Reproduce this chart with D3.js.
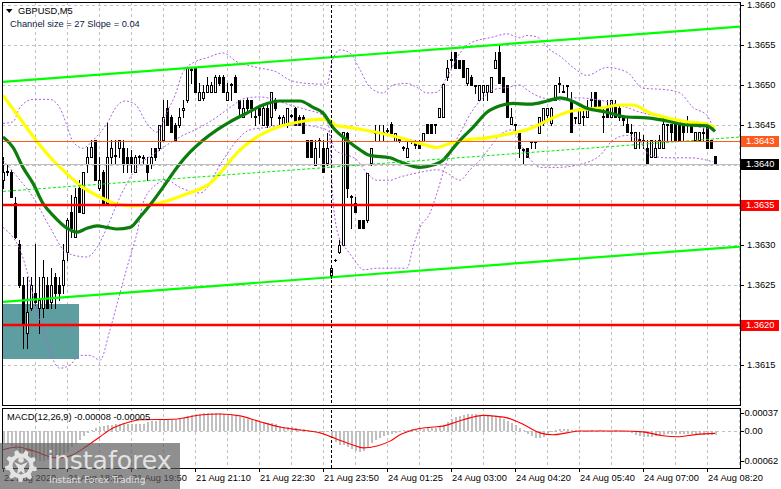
<!DOCTYPE html>
<html><head><meta charset="utf-8">
<script src="https://cdn.jsdelivr.net/npm/d3@7"></script>
<style>
body{margin:0;background:#fff;}
svg{display:block;}
</style>
</head><body><svg id="c" width="781" height="489"></svg>
<script>
// ---------------- DATA ----------------
const symbolTitle = "GBPUSD,M5";
const channelText = "Channel size = 27 Slope = 0.04";
const macdName = "MACD(12,26,9)";
const timeLabels = ["21 Aug 2020","21 Aug 18:30","21 Aug 19:50","21 Aug 21:10","21 Aug 22:30","21 Aug 23:50",
  "24 Aug 01:25","24 Aug 03:00","24 Aug 04:20","24 Aug 05:40","24 Aug 07:00","24 Aug 08:20"];
const timeLabelBars = [0,16,32,48,64,80,96,112,128,144,160,176];
const gridBars = [8,16,24,32,40,48,56,64,72,80,88,96,104,112,120,128,136,144,152,160,168,176,184];
const priceTicks = [1.3615,1.3620,1.3625,1.3630,1.3635,1.3640,1.3645,1.3650,1.3655,1.3660];
const macdTicks = [0.00037, 0, -0.00062];
const daySeparatorBar = 82;

const opens = [1.36381,1.36391,1.36391,1.36352,1.36301,1.36250,1.36190,1.36221,1.36240,1.36221,
1.36221,1.36250,1.36229,1.36260,1.36250,1.36250,1.36291,1.36341,1.36310,1.36371,
1.36340,1.36401,1.36410,1.36431,1.36371,1.36391,1.36352,1.36410,1.36411,1.36421,
1.36421,1.36410,1.36410,1.36391,1.36410,1.36409,1.36401,1.36401,1.36421,1.36421,
1.36431,1.36471,1.36460,1.36450,1.36450,1.36469,1.36481,1.36519,1.36521,1.36481,
1.36484,1.36491,1.36491,1.36491,1.36510,1.36510,1.36481,1.36500,1.36510,1.36481,
1.36460,1.36481,1.36481,1.36460,1.36471,1.36450,1.36471,1.36460,1.36481,1.36459,
1.36450,1.36450,1.36461,1.36471,1.36460,1.36460,1.36431,1.36431,1.36400,1.36430,
1.36421,1.36402,1.36260,1.36281,1.36291,1.36300,1.36440,1.36360,1.36352,1.36331,
1.36331,1.36331,1.36402,1.36440,1.36440,1.36440,1.36444,1.36451,1.36430,1.36431,
1.36421,1.36410,1.36430,1.36430,1.36430,1.36430,1.36451,1.36451,1.36450,1.36460,
1.36460,1.36510,1.36531,1.36541,1.36531,1.36531,1.36502,1.36510,1.36499,1.36481,
1.36491,1.36491,1.36491,1.36521,1.36541,1.36510,1.36500,1.36451,1.36450,1.36440,
1.36419,1.36421,1.36429,1.36429,1.36440,1.36452,1.36462,1.36452,1.36481,1.36501,
1.36491,1.36499,1.36481,1.36459,1.36452,1.36460,1.36460,1.36481,1.36491,1.36481,
1.36460,1.36471,1.36460,1.36472,1.36471,1.36460,1.36451,1.36440,1.36421,1.36431,
1.36430,1.36421,1.36410,1.36410,1.36421,1.36421,1.36450,1.36451,1.36451,1.36451,
1.36451,1.36450,1.36451,1.36431,1.36431,1.36440,1.36451,1.36431,1.36411];
const highs = [1.36410,1.36401,1.36394,1.36360,1.36306,1.36260,1.36260,1.36260,1.36301,1.36260,
1.36281,1.36260,1.36271,1.36265,1.36260,1.36301,1.36334,1.36362,1.36371,1.36381,
1.36391,1.36422,1.36431,1.36431,1.36410,1.36394,1.36452,1.36431,1.36431,1.36431,
1.36431,1.36421,1.36419,1.36412,1.36412,1.36412,1.36410,1.36421,1.36421,1.36450,
1.36481,1.36481,1.36462,1.36452,1.36471,1.36481,1.36521,1.36521,1.36521,1.36502,
1.36500,1.36510,1.36504,1.36512,1.36512,1.36512,1.36502,1.36502,1.36512,1.36481,
1.36481,1.36484,1.36481,1.36471,1.36475,1.36475,1.36475,1.36491,1.36484,1.36462,
1.36462,1.36471,1.36464,1.36472,1.36462,1.36462,1.36431,1.36431,1.36431,1.36434,
1.36431,1.36440,1.36271,1.36282,1.36306,1.36441,1.36441,1.36362,1.36360,1.36331,
1.36331,1.36390,1.36421,1.36450,1.36450,1.36450,1.36446,1.36454,1.36440,1.36434,
1.36424,1.36431,1.36431,1.36431,1.36431,1.36440,1.36451,1.36451,1.36451,1.36471,
1.36501,1.36531,1.36541,1.36541,1.36531,1.36531,1.36521,1.36512,1.36500,1.36500,
1.36500,1.36500,1.36510,1.36541,1.36550,1.36510,1.36500,1.36471,1.36451,1.36440,
1.36421,1.36421,1.36430,1.36430,1.36460,1.36471,1.36471,1.36472,1.36500,1.36510,
1.36500,1.36500,1.36491,1.36460,1.36471,1.36471,1.36481,1.36491,1.36491,1.36481,
1.36471,1.36481,1.36481,1.36481,1.36475,1.36462,1.36459,1.36451,1.36441,1.36441,
1.36437,1.36431,1.36431,1.36431,1.36437,1.36460,1.36451,1.36451,1.36451,1.36451,
1.36451,1.36461,1.36451,1.36441,1.36441,1.36446,1.36451,1.36431,1.36411];
const lows = [1.36371,1.36387,1.36360,1.36309,1.36247,1.36171,1.36171,1.36219,1.36225,1.36190,
1.36210,1.36221,1.36221,1.36221,1.36231,1.36240,1.36281,1.36310,1.36310,1.36341,
1.36340,1.36391,1.36410,1.36381,1.36369,1.36350,1.36350,1.36401,1.36401,1.36410,
1.36391,1.36391,1.36391,1.36391,1.36401,1.36401,1.36381,1.36396,1.36406,1.36419,
1.36431,1.36450,1.36441,1.36431,1.36447,1.36460,1.36479,1.36502,1.36491,1.36481,
1.36481,1.36491,1.36491,1.36491,1.36500,1.36491,1.36481,1.36481,1.36491,1.36460,
1.36460,1.36469,1.36460,1.36450,1.36452,1.36450,1.36447,1.36450,1.36469,1.36450,
1.36450,1.36447,1.36460,1.36450,1.36450,1.36440,1.36410,1.36410,1.36400,1.36410,
1.36391,1.36400,1.36259,1.36280,1.36290,1.36300,1.36360,1.36321,1.36341,1.36321,
1.36321,1.36329,1.36400,1.36431,1.36431,1.36431,1.36440,1.36440,1.36430,1.36429,
1.36419,1.36410,1.36427,1.36421,1.36421,1.36430,1.36440,1.36440,1.36440,1.36460,
1.36460,1.36506,1.36521,1.36521,1.36521,1.36510,1.36500,1.36500,1.36490,1.36481,
1.36481,1.36481,1.36491,1.36521,1.36502,1.36491,1.36460,1.36451,1.36441,1.36410,
1.36402,1.36410,1.36421,1.36421,1.36440,1.36450,1.36460,1.36450,1.36481,1.36491,
1.36491,1.36481,1.36441,1.36452,1.36452,1.36450,1.36460,1.36469,1.36471,1.36469,
1.36441,1.36460,1.36460,1.36460,1.36456,1.36450,1.36441,1.36431,1.36421,1.36421,
1.36421,1.36402,1.36410,1.36410,1.36421,1.36421,1.36431,1.36431,1.36431,1.36431,
1.36431,1.36441,1.36441,1.36431,1.36431,1.36431,1.36421,1.36421,1.36401];
const closes = [1.36391,1.36392,1.36360,1.36310,1.36250,1.36200,1.36216,1.36250,1.36229,1.36231,
1.36260,1.36221,1.36250,1.36240,1.36240,1.36281,1.36331,1.36321,1.36360,1.36341,
1.36391,1.36410,1.36422,1.36381,1.36381,1.36352,1.36410,1.36421,1.36412,1.36431,
1.36401,1.36401,1.36401,1.36410,1.36411,1.36410,1.36391,1.36410,1.36410,1.36450,
1.36460,1.36450,1.36441,1.36431,1.36460,1.36471,1.36521,1.36520,1.36491,1.36491,
1.36491,1.36500,1.36500,1.36510,1.36502,1.36491,1.36491,1.36501,1.36491,1.36471,
1.36471,1.36471,1.36471,1.36461,1.36462,1.36471,1.36450,1.36491,1.36471,1.36460,
1.36460,1.36471,1.36462,1.36450,1.36450,1.36440,1.36410,1.36410,1.36421,1.36431,
1.36391,1.36421,1.36271,1.36281,1.36300,1.36441,1.36371,1.36361,1.36341,1.36321,
1.36321,1.36390,1.36421,1.36441,1.36441,1.36441,1.36443,1.36440,1.36440,1.36432,
1.36422,1.36421,1.36431,1.36425,1.36421,1.36440,1.36440,1.36440,1.36451,1.36471,
1.36501,1.36521,1.36532,1.36521,1.36521,1.36510,1.36521,1.36500,1.36500,1.36500,
1.36500,1.36500,1.36510,1.36531,1.36502,1.36491,1.36460,1.36460,1.36451,1.36421,
1.36420,1.36410,1.36430,1.36430,1.36460,1.36471,1.36471,1.36471,1.36500,1.36502,
1.36492,1.36500,1.36441,1.36460,1.36469,1.36461,1.36471,1.36482,1.36471,1.36469,
1.36461,1.36460,1.36481,1.36460,1.36460,1.36456,1.36441,1.36441,1.36441,1.36432,
1.36431,1.36402,1.36431,1.36421,1.36431,1.36451,1.36451,1.36441,1.36431,1.36431,
1.36441,1.36451,1.36441,1.36441,1.36441,1.36441,1.36421,1.36421,1.36401];

// moving averages: [bar, price]
const maYellow = [[0,1.36487],[4,1.36460],[7.5,1.36436],[11.75,1.36410],[16,1.36389],[20,1.36372],[24.25,1.36360],[28.5,1.36351],[32.5,1.36349],[36.75,1.36350],[41,1.36355],[46,1.36364],[49.25,1.36370],[51.75,1.36377],[55,1.36394],[58.5,1.36415],[63.5,1.36435],[68.5,1.36447],[74.25,1.36454],[78.5,1.36457],[81,1.36457],[83.5,1.36449],[86.75,1.36447],[90,1.36444],[94.25,1.36440],[99.25,1.36434],[104.25,1.36427],[108.5,1.36422],[111.75,1.36427],[115,1.36431],[121,1.36434],[127.5,1.36440],[132.5,1.36447],[137.5,1.36459],[141,1.36466],[144.25,1.36469],[149.25,1.36471],[154.25,1.36475],[157.5,1.36475],[161.75,1.36465],[166,1.36459],[171,1.36454],[176,1.36451],[178,1.36447]];
const maGreen = [[0,1.36435],[2.5,1.36422],[5,1.36397],[7.5,1.36377],[10,1.36352],[12.5,1.36337],[16,1.36321],[18.5,1.36316],[21,1.36321],[23.5,1.36324],[26,1.36322],[28.5,1.36320],[31.75,1.36322],[34.25,1.36335],[36.75,1.36350],[40,1.36372],[43.5,1.36397],[46.75,1.36416],[50,1.36431],[53.5,1.36444],[56.75,1.36454],[61,1.36465],[65,1.36475],[69.25,1.36480],[74.25,1.36480],[77.5,1.36472],[80,1.36465],[82.5,1.36447],[86,1.36431],[89.25,1.36419],[91.75,1.36412],[96.75,1.36409],[99.25,1.36404],[104.25,1.36397],[107.5,1.36400],[110,1.36406],[111.75,1.36416],[114.25,1.36431],[117.5,1.36447],[121,1.36466],[124.25,1.36474],[127.5,1.36477],[131.75,1.36476],[136,1.36480],[139.25,1.36484],[141.75,1.36481],[146,1.36471],[151,1.36466],[156,1.36460],[161,1.36459],[166,1.36455],[171,1.36450],[176,1.36449],[178,1.36442]];

// dotted bands: [bar, price]
const bandUpper = [[0,1.36452],[2.5,1.36454],[4.25,1.36472],[7.5,1.36482],[11.75,1.36482],[14.25,1.36471],[16,1.36449],[17.5,1.36429],[20,1.36421],[22.5,1.36431],[26,1.36452],[28.5,1.36474],[30.5,1.36480],[33,1.36476],[36,1.36452],[38.5,1.36441],[41,1.36466],[43,1.36487],[45,1.36516],[48,1.36529],[51,1.36534],[55,1.36540],[58.5,1.36529],[63.5,1.36522],[68.5,1.36516],[71.75,1.36506],[76,1.36502],[81,1.36501],[82.25,1.36529],[84.25,1.36544],[86.75,1.36540],[89.25,1.36519],[91.75,1.36497],[95,1.36490],[97.5,1.36500],[101,1.36502],[103.5,1.36497],[106,1.36490],[108.5,1.36491],[111,1.36510],[114.25,1.36540],[116.75,1.36552],[122.5,1.36560],[126,1.36564],[129.25,1.36559],[131,1.36562],[133.5,1.36560],[136.75,1.36544],[139.25,1.36536],[142.5,1.36522],[146,1.36512],[151,1.36522],[156,1.36516],[160,1.36496],[166,1.36494],[169.25,1.36490],[172.5,1.36472],[176,1.36462],[177.5,1.36447]];
const bandInner = [[0,1.36406],[4.25,1.36381],[7.5,1.36360],[11.75,1.36322],[16,1.36290],[21,1.36285],[23.5,1.36297],[26,1.36322],[29.25,1.36360],[32.5,1.36390],[39.25,1.36419],[44.25,1.36435],[49.25,1.36447],[53.5,1.36460],[56.75,1.36472],[61,1.36484],[64.25,1.36485],[71.75,1.36475],[76,1.36469],[80,1.36462],[81.5,1.36447],[82.5,1.36356],[84.25,1.36306],[86,1.36294],[88.5,1.36277],[90,1.36269],[93.5,1.36271],[101,1.36271],[102.5,1.36297],[104.25,1.36322],[106.75,1.36340],[108.5,1.36365],[110,1.36390],[111.75,1.36415],[114.25,1.36440],[117.5,1.36469],[120,1.36484],[122.5,1.36494],[126,1.36497],[129.25,1.36500],[131,1.36494],[134.25,1.36485],[139.25,1.36481],[143.5,1.36484],[149.25,1.36481],[154.25,1.36475],[159.25,1.36466],[166,1.36459],[171.75,1.36450],[177.5,1.36444]];
const bandLower = [[0,1.36322],[4.25,1.36294],[9.25,1.36206],[14.25,1.36146],[16.75,1.36150],[19.25,1.36162],[21.75,1.36162],[24.25,1.36156],[26.75,1.36194],[29.25,1.36240],[31.75,1.36285],[33.5,1.36315],[35,1.36352],[37.5,1.36372],[41,1.36381],[44.25,1.36372],[49.25,1.36365],[55,1.36406],[58.5,1.36431],[61.75,1.36444],[66,1.36447],[70,1.36450],[74.25,1.36450],[81,1.36444],[83,1.36419],[88.5,1.36406],[91,1.36390],[93.5,1.36381],[96.75,1.36381],[99.25,1.36385],[103.5,1.36390],[108.5,1.36394],[111,1.36390],[114.25,1.36381],[116.75,1.36394],[119.25,1.36406],[121.75,1.36422],[124.25,1.36438],[127.5,1.36444],[129.5,1.36425],[132,1.36406],[134.25,1.36397],[138.5,1.36397],[143.5,1.36400],[149.25,1.36412],[152.5,1.36431],[156,1.36437],[159,1.36431],[161.75,1.36412],[166,1.36409],[171.75,1.36409],[176,1.36406],[177.5,1.36404]];

// regression channel: [bar, price]
const channelUpper = [[0,1.36504],[184.25,1.36573]];
const channelMiddle = [[0,1.36367],[184.25,1.36435]];
const channelLower = [[0,1.36229],[184.25,1.36298]];

// levels and zone
const redLevels = [1.3635, 1.3620];
const orangeLevel = 1.3643;
const zone = {startBar: -0.25, endBar: 19, high: 1.36226, low: 1.36157};

// MACD
const macdMain = [-0.00025,-0.00027,-0.00031,-0.00037,-0.00043,-0.00049,-0.00056,-0.00060,-0.00062,-0.00062,
-0.00061,-0.00060,-0.00058,-0.00056,-0.00053,-0.00047,-0.00041,-0.00033,-0.00027,-0.00019,
-0.00010,-0.00004,0.00002,0.00006,0.00008,0.00010,0.00012,0.00012,0.00014,0.00014,
0.00015,0.00014,0.00014,0.00015,0.00014,0.00015,0.00018,0.00021,0.00020,0.00023,
0.00025,0.00024,0.00023,0.00022,0.00024,0.00027,0.00031,0.00033,0.00035,0.00035,
0.00036,0.00037,0.00036,0.00037,0.00036,0.00035,0.00034,0.00033,0.00031,0.00029,
0.00026,0.00024,0.00022,0.00020,0.00018,0.00017,0.00016,0.00017,0.00015,0.00011,
0.00009,0.00009,0.00008,0.00006,0.00005,0.00003,0.00001,-0.00001,-0.00001,-0.00002,
-0.00003,-0.00002,-0.00012,-0.00022,-0.00030,-0.00028,-0.00033,-0.00038,-0.00041,-0.00043,
-0.00041,-0.00033,-0.00025,-0.00019,-0.00014,-0.00010,-0.00008,-0.00006,-0.00004,-0.00001,
0.00002,0.00002,0.00004,0.00004,0.00004,0.00005,0.00006,0.00006,0.00006,0.00008,
0.00012,0.00018,0.00024,0.00028,0.00031,0.00033,0.00035,0.00035,0.00034,0.00033,
0.00032,0.00031,0.00030,0.00031,0.00029,0.00025,0.00020,0.00016,0.00012,0.00006,
0.00002,-0.00006,-0.00010,-0.00014,-0.00015,-0.00012,-0.00008,-0.00003,0.00002,0.00004,
0.00005,0.00004,0.00002,0.00001,0.00001,0.00000,-0.00001,0.00001,0.00000,0.00001,
0.00000,-0.00001,0.00000,0.00001,0.00000,-0.00002,-0.00003,-0.00004,-0.00008,-0.00010,
-0.00012,-0.00013,-0.00012,-0.00011,-0.00009,-0.00008,-0.00007,-0.00007,-0.00006,-0.00007,
-0.00006,-0.00006,-0.00007,-0.00006,-0.00007,-0.00008,-0.00008,-0.00008,-0.00008];
const macdSignal = [[0,-0.00039],[3.5,-0.00033],[7.5,-0.00041],[13.5,-0.00056],[17.25,-0.00050],[21,-0.00031],[24.25,-0.00012],[27.5,0.00006],[31,0.00017],[34.25,0.00023],[42.5,0.00024],[46,0.00028],[49.25,0.00033],[54.25,0.00035],[59.25,0.00031],[64.25,0.00019],[69.25,0.00008],[74.25,0.00002],[79.25,-0.00004],[83.5,-0.00017],[87.5,-0.00029],[90,-0.00035],[93.5,-0.00031],[96.75,-0.00021],[99.25,-0.00008],[103.5,0.00004],[107.5,0.00008],[110,0.00010],[113.5,0.00019],[116.75,0.00027],[120,0.00032],[123.5,0.00030],[126,0.00027],[130,0.00014],[134.25,-0.00004],[137.5,-0.00008],[141,-0.00004],[144.25,0.00000],[150,0.00000],[155,0.00000],[160,-0.00002],[165,-0.00010],[168.5,-0.00012],[173.5,-0.00007],[178,-0.00005]];

// ---------------- DRAWING ----------------
const FONT = "'Liberation Sans', Arial, sans-serif";
const FS = 9.3;
const svg = d3.select("#c");
const x = d3.scaleLinear().domain([0, 178]).range([3, 715]);
const y = d3.scaleLinear().domain([1.3615, 1.3660]).range([365, 5]);
const ym = d3.scaleLinear().domain([-0.00062, 0.00037]).range([461, 413]);
const P = v => Math.round(v) + 0.5;

const M = {l: 2, r: 740, t: 2, b: 405};
const S = {t: 408, b: 468};

svg.append("rect").attr("width",781).attr("height",489).attr("fill","#fff");
const defs = svg.append("defs");
defs.append("clipPath").attr("id","cm").append("rect").attr("x",M.l+1).attr("y",M.t+1).attr("width",M.r-M.l-1).attr("height",M.b-M.t-1);
defs.append("clipPath").attr("id","cs").append("rect").attr("x",M.l+1).attr("y",S.t+1).attr("width",M.r-M.l-1).attr("height",S.b-S.t-1);

const main = svg.append("g").attr("clip-path","url(#cm)");
const sub = svg.append("g").attr("clip-path","url(#cs)");

// grid
const gridG = main.append("g").attr("stroke","#c0c0c0").attr("stroke-dasharray","3,3").attr("shape-rendering","crispEdges");
priceTicks.forEach(p => gridG.append("line").attr("x1",M.l).attr("x2",M.r).attr("y1",P(y(p))).attr("y2",P(y(p))));
gridBars.forEach(b => gridG.append("line").attr("x1",P(x(b))).attr("x2",P(x(b))).attr("y1",M.t).attr("y2",M.b));
const gridS = sub.append("g").attr("stroke","#c0c0c0").attr("stroke-dasharray","3,3").attr("shape-rendering","crispEdges");
gridBars.forEach(b => gridS.append("line").attr("x1",P(x(b))).attr("x2",P(x(b))).attr("y1",S.t).attr("y2",S.b));
gridS.append("line").attr("x1",M.l).attr("x2",M.r).attr("y1",P(ym(0))).attr("y2",P(ym(0)));

// zone rectangle (background)
main.append("rect")
  .attr("x", Math.round(x(zone.startBar))).attr("y", Math.round(y(zone.high)))
  .attr("width", Math.round(x(zone.endBar)) - Math.round(x(zone.startBar)))
  .attr("height", Math.round(y(zone.low)) - Math.round(y(zone.high)))
  .attr("fill","#5f9ea0");

// candles
const cg = main.append("g").attr("shape-rendering","crispEdges");
opens.forEach((o,i) => {
  const h = highs[i], l = lows[i], c = closes[i];
  const cx = Math.round(x(i));
  const yh = Math.round(y(h)), yl = Math.round(y(l));
  const yo = Math.round(y(o)), yc = Math.round(y(c));
  cg.append("line").attr("x1",cx+0.5).attr("x2",cx+0.5).attr("y1",yh).attr("y2",yl+1).attr("stroke","#000");
  const top = Math.min(yo,yc), bot = Math.max(yo,yc);
  if (bot - top < 1) {
    cg.append("line").attr("x1",cx-1).attr("x2",cx+2).attr("y1",top+0.5).attr("y2",top+0.5).attr("stroke","#000");
  } else {
    cg.append("rect").attr("x",cx-0.5).attr("y",top+0.5).attr("width",2).attr("height",bot-top)
      .attr("fill", c >= o ? "#fff" : "#000").attr("stroke","#000");
  }
});

// bands (dotted purple)
const lineP = d3.line().x(d => x(d[0])).y(d => y(d[1])).curve(d3.curveMonotoneX);
[bandUpper, bandInner, bandLower].forEach(b => {
  main.append("path").attr("d", lineP(b)).attr("fill","none").attr("stroke","#ac5fe0")
    .attr("stroke-width",1).attr("stroke-dasharray","2,2");
});

// moving averages
main.append("path").attr("d", lineP(maYellow)).attr("fill","none").attr("stroke","#ffff00").attr("stroke-width",3.2).attr("stroke-linejoin","round");
main.append("path").attr("d", lineP(maGreen)).attr("fill","none").attr("stroke","#0b7d0b").attr("stroke-width",3.2).attr("stroke-linejoin","round");

// regression channel
const lineL = d3.line().x(d => x(d[0])).y(d => y(d[1]));
main.append("path").attr("d", lineL(channelUpper)).attr("stroke","#00ff00").attr("stroke-width",2.2).attr("fill","none");
main.append("path").attr("d", lineL(channelLower)).attr("stroke","#00ff00").attr("stroke-width",2.2).attr("fill","none");
main.append("path").attr("d", lineL(channelMiddle)).attr("stroke","#00ee00").attr("stroke-width",1).attr("stroke-dasharray","3,2").attr("fill","none");

// horizontal levels
const bid = closes[closes.length-1];
main.append("line").attr("x1",M.l).attr("x2",M.r).attr("y1",P(y(bid))).attr("y2",P(y(bid))).attr("stroke","#c0c0c0").attr("shape-rendering","crispEdges");
main.append("line").attr("x1",M.l).attr("x2",M.r).attr("y1",P(y(orangeLevel))).attr("y2",P(y(orangeLevel))).attr("stroke","#ff5a1e").attr("shape-rendering","crispEdges");
redLevels.forEach(p => main.append("line").attr("x1",M.l).attr("x2",M.r).attr("y1",Math.round(y(p))).attr("y2",Math.round(y(p)))
  .attr("stroke","#ff0000").attr("stroke-width",2.4));

// day separator
[main, sub].forEach(g => g.append("line").attr("x1",P(x(daySeparatorBar))).attr("x2",P(x(daySeparatorBar)))
  .attr("y1",0).attr("y2",489).attr("stroke","#000").attr("stroke-dasharray","3,2").attr("shape-rendering","crispEdges"));

// MACD histogram and signal
const hg = sub.append("g").attr("shape-rendering","crispEdges");
macdMain.forEach((v,i) => {
  const cx = Math.round(x(i));
  const y0 = Math.round(ym(0)), y1 = Math.round(ym(v));
  hg.append("rect").attr("x",cx).attr("y",Math.min(y0,y1)).attr("width",2).attr("height",Math.max(1,Math.abs(y1-y0))).attr("fill","#c0c0c0");
});
const lineM = d3.line().x(d => x(d[0])).y(d => ym(d[1])).curve(d3.curveMonotoneX);
sub.append("path").attr("d", lineM(macdSignal)).attr("fill","none").attr("stroke","#ff0000").attr("stroke-width",1.1);

// frames
svg.append("rect").attr("x",M.l+0.5).attr("y",M.t+0.5).attr("width",M.r-M.l).attr("height",M.b-M.t).attr("fill","none").attr("stroke","#000").attr("shape-rendering","crispEdges");
svg.append("rect").attr("x",M.l+0.5).attr("y",S.t+0.5).attr("width",M.r-M.l).attr("height",S.b-S.t).attr("fill","none").attr("stroke","#000").attr("shape-rendering","crispEdges");

// axes
function styleAxis(g) {
  g.select(".domain").remove();
  g.selectAll("line").attr("stroke","#000");
  g.selectAll("text").attr("font-family",FONT).attr("font-size",FS).attr("fill","#000");
}
const ay = svg.append("g").attr("transform",`translate(${M.r},0)`)
  .call(d3.axisRight(y).tickValues(priceTicks).tickSize(4).tickPadding(3).tickFormat(d3.format(".4f")));
styleAxis(ay);
const am = svg.append("g").attr("transform",`translate(${M.r},0)`)
  .call(d3.axisRight(ym).tickValues(macdTicks).tickSize(4).tickPadding(0).tickFormat(d => d === 0 ? "0.00" : d.toFixed(5)));
styleAxis(am);
am.selectAll("text").attr("dx", d => d < 0 ? -2.5 : 0.5);
const ax = svg.append("g").attr("transform",`translate(0,${S.b})`)
  .call(d3.axisBottom(x).tickValues(timeLabelBars).tickSize(4).tickFormat((d,i) => timeLabels[i]));
styleAxis(ax);
ax.selectAll("text").attr("text-anchor","start").attr("dx",0.5).attr("y",6);

// price boxes
function priceBox(p, bg) {
  const yc = Math.round(y(p));
  svg.append("rect").attr("x",741).attr("y",yc-5).attr("width",38).attr("height",11).attr("fill",bg);
  svg.append("text").attr("x",746).attr("y",yc).attr("dy","0.35em").attr("font-family",FONT).attr("font-size",FS)
    .attr("fill","#fff").text(p.toFixed(4));
}
priceBox(orangeLevel, "#ff5a1e");
priceBox(bid, "#000");
redLevels.forEach(p => priceBox(p, "#ff0000"));

// titles
svg.append("path").attr("d","M6,9L12.5,9L9.25,13Z").attr("fill","#000");
svg.append("text").attr("x",18).attr("y",13.5).attr("font-family",FONT).attr("font-size",FS).attr("fill","#000").text(symbolTitle);
svg.append("text").attr("x",10).attr("y",26.5).attr("font-family",FONT).attr("font-size",FS).attr("fill","#0d1b3e").text(channelText);
const fmtM = v => (v < 0 ? "-" : "") + Math.abs(v).toFixed(5);
svg.append("text").attr("x",7).attr("y",419.5).attr("font-family",FONT).attr("font-size",FS).attr("fill","#000")
  .text(`${macdName} ${fmtM(macdMain[macdMain.length-1])} ${fmtM(macdSignal[macdSignal.length-1][1])}`);

// watermark logo
const logo = svg.append("g");
logo.append("rect").attr("x",0).attr("y",443).attr("width",180).attr("height",46).attr("fill","#5a5a5a").attr("opacity",0.68);
function gearPath(cx, cy, ro, ri, n) {
  let d = "";
  for (let k = 0; k < n; k++) {
    const a0 = (k / n) * 2 * Math.PI, step = 2 * Math.PI / n;
    const pts = [[ri, a0], [ro, a0 + step * 0.15], [ro, a0 + step * 0.45], [ri, a0 + step * 0.6]];
    pts.forEach((pt, j) => {
      const px = cx + pt[0] * Math.cos(pt[1]), py = cy + pt[0] * Math.sin(pt[1]);
      d += (k === 0 && j === 0 ? "M" : "L") + px.toFixed(2) + "," + py.toFixed(2);
    });
  }
  d += "Z";
  const r = ri - 4;
  d += `M${cx + r},${cy}A${r},${r} 0 1,0 ${cx - r},${cy}A${r},${r} 0 1,0 ${cx + r},${cy}Z`;
  return d;
}
const LOGO_FILL = "rgba(240,240,240,0.88)";
logo.append("path").attr("d", gearPath(21, 466, 16, 12.5, 9)).attr("fill",LOGO_FILL).attr("fill-rule","evenodd");
logo.append("circle").attr("cx",21).attr("cy",460).attr("r",2.8).attr("fill",LOGO_FILL);
logo.append("path").attr("d","M14,462L21,465L28,462L24,468L25,475L21,471L17,475L18,468Z").attr("fill",LOGO_FILL);
logo.append("text").attr("x",47).attr("y",469).attr("font-family","'DejaVu Sans', sans-serif").attr("font-size",25).attr("fill",LOGO_FILL).text("instaforex");
logo.append("text").attr("x",49).attr("y",483).attr("font-family","'DejaVu Sans', sans-serif").attr("font-size",9.2).attr("fill",LOGO_FILL).text("Instant Forex Trading");
</script>
</body></html>
